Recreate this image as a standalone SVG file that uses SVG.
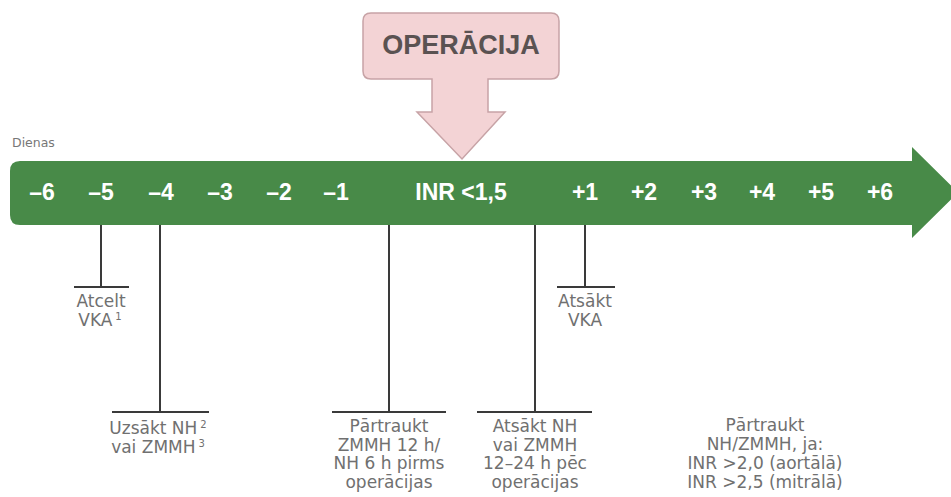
<svg xmlns="http://www.w3.org/2000/svg" width="951" height="497" viewBox="0 0 951 497">
<style>
.num{font-family:"Liberation Sans",Arial,sans-serif;font-weight:bold;font-size:23px;fill:#ffffff;text-anchor:middle}
.lbl{font-family:"DejaVu Sans",sans-serif;font-size:17px;fill:#707070;text-anchor:middle}
.sup{font-size:10px}
.ln{stroke:#3a3a3a;stroke-width:2;fill:none}
</style>
<rect width="951" height="497" fill="#ffffff"/>
<g id="timeline">
<path d="M 20 161 H 912 V 147 L 958 192.5 L 912 238 V 225 H 20 Q 10 225 10 215 V 171 Q 10 161 20 161 Z" fill="#488a48"/>
<text class="num" x="42" y="200">–6</text>
<text class="num" x="101" y="200">–5</text>
<text class="num" x="161" y="200">–4</text>
<text class="num" x="220" y="200">–3</text>
<text class="num" x="279" y="200">–2</text>
<text class="num" x="336" y="200">–1</text>
<text class="num" x="461" y="200">INR &lt;1,5</text>
<text class="num" x="585" y="200">+1</text>
<text class="num" x="644" y="200">+2</text>
<text class="num" x="704" y="200">+3</text>
<text class="num" x="762" y="200">+4</text>
<text class="num" x="821" y="200">+5</text>
<text class="num" x="880" y="200">+6</text>
</g>
<g id="dienas">
<text x="12" y="147" font-family="DejaVu Sans,sans-serif" font-size="12.5" fill="#777777">Dienas</text>
</g>
<g id="operacija">
<path d="M 371 13 H 551 Q 559 13 559 21 V 71 Q 559 79 551 79 H 488 V 112 H 505 L 462 159 L 417 112 H 432 V 79 H 371 Q 363 79 363 71 V 21 Q 363 13 371 13 Z" fill="#f3d3d5" stroke="#c7a3a6" stroke-width="1.5"/>
<text x="461" y="54" font-family="Liberation Sans,Arial,sans-serif" font-weight="bold" font-size="27" fill="#5a5252" text-anchor="middle">OPERĀCIJA</text>
</g>
<g id="connectors">
<path class="ln" d="M 101 225 V 287 M 74 287 H 129"/>
<path class="ln" d="M 160 225 V 412 M 112 412 H 209"/>
<path class="ln" d="M 389 225 V 412 M 332 412 H 446"/>
<path class="ln" d="M 535 225 V 412 M 477 412 H 592"/>
<path class="ln" d="M 585 225 V 287 M 557 287 H 615"/>
</g>
<g id="atcelt-vka">
<text class="lbl" x="101" y="307">Atcelt</text>
<text class="lbl" x="100" y="326">VKA<tspan class="sup" dx="3" dy="-6">1</tspan></text>
</g>
<g id="uzsakt-nh">
<text class="lbl" x="158" y="433.5">Uzsākt NH<tspan class="sup" dx="3" dy="-6">2</tspan></text>
<text class="lbl" x="158" y="453">vai ZMMH<tspan class="sup" dx="3" dy="-6">3</tspan></text>
</g>
<g id="partraukt-zmmh">
<text class="lbl" x="389" y="432">Pārtraukt</text>
<text class="lbl" x="389" y="450.5">ZMMH 12 h/</text>
<text class="lbl" x="389" y="469">NH 6 h pirms</text>
<text class="lbl" x="389" y="487.5">operācijas</text>
</g>
<g id="atsakt-nh">
<text class="lbl" x="535" y="432">Atsākt NH</text>
<text class="lbl" x="535" y="450.5">vai ZMMH</text>
<text class="lbl" x="535" y="469">12–24 h pēc</text>
<text class="lbl" x="535" y="487.5">operācijas</text>
</g>
<g id="atsakt-vka">
<text class="lbl" x="585" y="307">Atsākt</text>
<text class="lbl" x="585" y="326">VKA</text>
</g>
<g id="partraukt-nh">
<text class="lbl" x="765" y="431">Pārtraukt</text>
<text class="lbl" x="765" y="449.5">NH/ZMMH, ja:</text>
<text class="lbl" x="765" y="469">INR &gt;2,0 (aortālā)</text>
<text class="lbl" x="765" y="488">INR &gt;2,5 (mitrālā)</text>
</g>
</svg>
